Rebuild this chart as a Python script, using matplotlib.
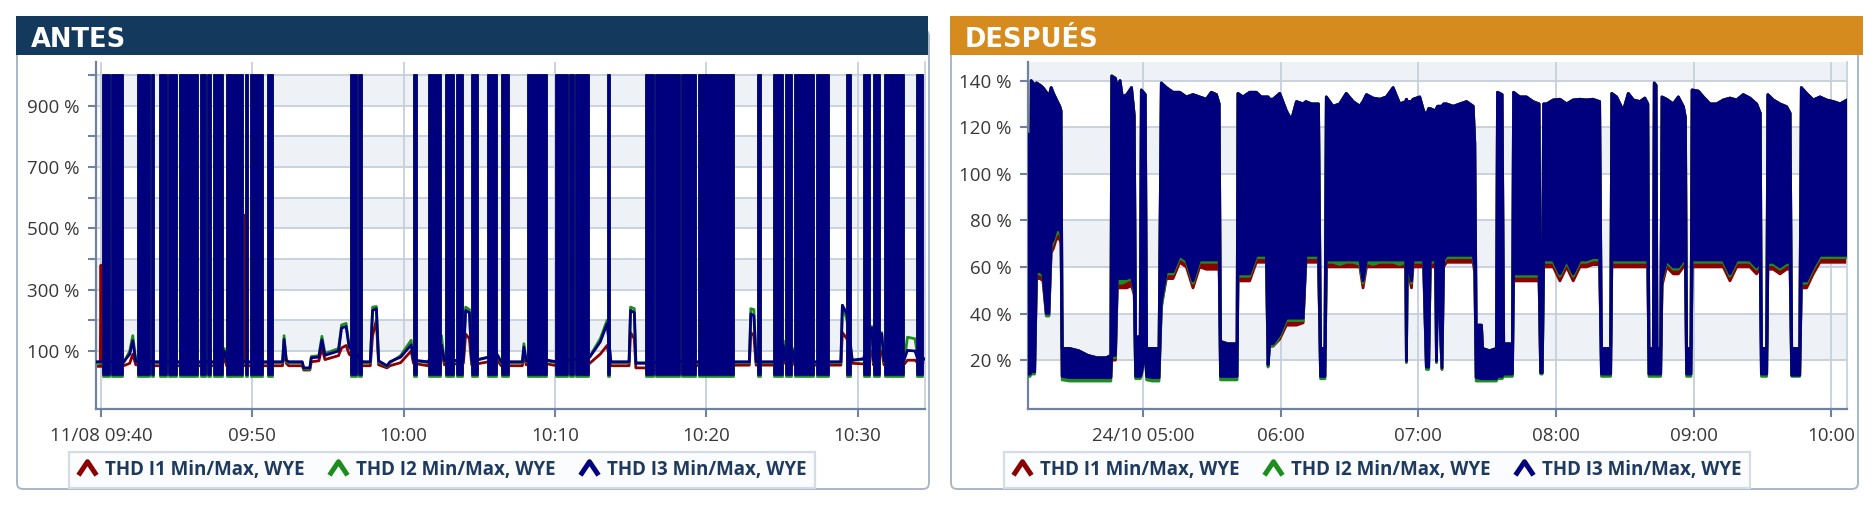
import matplotlib
matplotlib.use("Agg")
import matplotlib.pyplot as plt
import matplotlib.dates as mdates
from matplotlib.patches import Rectangle, FancyBboxPatch
from matplotlib.path import Path
from matplotlib.lines import Line2D
import pandas as pd

# ---------------- ANTES: minutes after 11/08 09:40 ----------------
antes_start = "2023-08-11 09:40"
antes_xlim = [-0.33, 54.46]
antes_tick_min = [0, 10, 20, 30, 40, 50]
antes_tick_labels = ["11/08 09:40", "09:50", "10:00", "10:10", "10:20", "10:30"]

# bursts where the reading saturates at 1000 %
antes_block_start = [0.1, 0.7, 2.45, 3.4, 3.9, 4.5, 5.2, 6.6, 7.1, 7.5,
                     8.35, 8.75, 9.15, 9.6, 9.9, 11.05, 16.5, 17.05,
                     20.7, 21.65, 22.8, 23.5, 24.55, 25.6, 26.5, 28.2, 29.3, 30.1,
                     31.0, 31.4, 31.65, 33.5, 36.0,
                     36.7, 37.4, 38.4, 39.5, 40.85,
                     43.4, 44.5, 45.25, 45.9, 46.8, 47.3, 49.3,
                     50.45, 51.1, 51.8, 53.9]
antes_block_end = [0.6, 1.45, 3.25, 3.5, 4.35, 5.0, 6.4, 6.95, 7.25, 8.05,
                   8.65, 9.05, 9.4, 9.7, 10.7, 11.35, 16.9, 17.25,
                   20.9, 22.45, 23.3, 23.9, 24.95, 26.15, 26.95, 29.2, 29.5, 30.85,
                   31.25, 31.6, 32.25, 33.65, 36.55,
                   37.35, 38.3, 39.35, 40.8, 41.85,
                   43.65, 45.05, 45.65, 46.75, 47.15, 48.1, 49.6,
                   50.85, 51.5, 53.1, 54.3]
antes_block_top = 1000
antes_block_floor = [30, 14, 22]   # I1, I2, I3

# level between the bursts
antes_base_t = [-0.33, -0.05, 0.0, 0.05, 1.5, 1.9, 2.1, 2.3, 3.6, 8.0,
                8.15, 8.3, 9.4, 9.45, 9.5, 11.4, 12.0, 12.1, 12.25, 12.4,
                13.3, 13.4, 13.8, 13.9, 14.4, 14.6, 14.8, 15.7, 15.9, 16.2,
                16.4, 17.3, 17.8, 17.95, 18.2, 18.35, 18.9, 19.1, 19.8, 20.5,
                20.65, 21.6, 22.5, 22.7, 23.95, 24.1, 24.35, 24.5, 26.2, 26.45,
                27.85, 27.95, 28.1, 29.5, 30.1, 32.3, 33.0, 33.45, 33.7, 34.9,
                35.0, 35.25, 35.35, 36.0, 37.0, 42.85, 42.95, 43.15, 43.3, 45.0,
                45.1, 45.2, 45.7, 45.85, 48.9, 49.0, 49.3, 49.65, 50.4, 50.95,
                51.05, 51.6, 51.75, 53.1, 53.3, 53.8, 54.0, 54.46]
antes_base_i1 = [50, 50, 380, 50, 52, 60, 90, 55, 52, 52,
                 80, 52, 52, 543, 52, 52, 52, 110, 60, 52,
                 52, 38, 38, 65, 68, 110, 72, 85, 110, 118,
                 90, 52, 52, 150, 200, 55, 45, 52, 62, 100,
                 60, 52, 100, 55, 60, 155, 140, 55, 70, 52,
                 52, 95, 55, 58, 52, 60, 90, 118, 52, 52,
                 160, 140, 45, 45, 52, 54, 160, 150, 54, 54,
                 90, 60, 75, 54, 54, 160, 140, 60, 58, 100,
                 55, 100, 55, 58, 70, 70, 60, 62]
antes_base_i2 = [60, 60, 60, 60, 62, 100, 150, 70, 62, 62,
                 108, 62, 62, 62, 62, 62, 62, 150, 65, 62,
                 62, 42, 40, 82, 85, 148, 92, 108, 185, 190,
                 115, 62, 62, 243, 245, 65, 50, 62, 85, 135,
                 70, 62, 150, 65, 70, 243, 235, 65, 88, 62,
                 62, 124, 65, 68, 62, 82, 140, 200, 62, 62,
                 243, 238, 62, 62, 62, 62, 238, 235, 62, 62,
                 134, 70, 110, 62, 62, 249, 200, 70, 72, 180,
                 65, 160, 65, 70, 145, 140, 75, 72]
antes_base_i3 = [65, 65, 65, 65, 65, 90, 134, 66, 65, 65,
                 100, 65, 65, 65, 65, 65, 65, 138, 70, 65,
                 65, 45, 45, 78, 80, 136, 86, 100, 175, 180,
                 113, 65, 65, 232, 238, 68, 52, 65, 80, 120,
                 70, 65, 120, 68, 70, 232, 225, 68, 86, 65,
                 65, 113, 68, 70, 65, 80, 130, 189, 65, 65,
                 232, 225, 60, 60, 65, 65, 221, 215, 65, 65,
                 118, 70, 102, 65, 65, 249, 221, 70, 75, 175,
                 68, 156, 68, 75, 102, 100, 70, 75]

# ---------------- DESPUÉS: minutes after 24/10 04:00 ----------------
despues_start = "2023-10-24 04:00"
despues_xlim = [9.9, 366.8]
despues_tick_min = [60, 120, 180, 240, 300, 360]
despues_tick_labels = ["24/10 05:00", "06:00", "07:00", "08:00", "09:00", "10:00"]

despues_t = [9.9, 10.8, 11.3, 12.8, 13.6, 15.2, 16.4, 17.9, 19.0, 20.0,
             21.0, 22.2, 23.7, 24.3, 24.8, 28.0, 32.0, 36.0, 40.0, 44.0,
             46.0, 46.4, 48.0, 48.8, 50.0, 51.0, 53.0, 55.0, 56.2, 56.8,
             58.8, 59.3, 61.0, 61.6, 64.0, 67.0, 68.0, 70.2, 73.1, 76.0,
             78.9, 81.8, 84.7, 87.6, 89.8, 92.0, 93.2, 93.8, 97.0, 101.0,
             101.4, 103.6, 106.5, 109.4, 111.5, 113.8, 114.5, 115.2, 116.7, 119.6,
             122.5, 124.7, 126.9, 129.8, 131.0, 133.5, 136.5, 137.4, 139.3, 139.9,
             142.8, 145.7, 148.6, 151.6, 154.5, 155.9, 157.4, 160.3, 163.2, 166.1,
             169.0, 171.9, 174.5, 174.8, 175.2, 177.0, 177.7, 180.6, 182.3, 183.5,
             184.5, 185.2, 187.5, 187.9, 188.4, 190.3, 191.0, 192.3, 195.2, 198.1,
             201.0, 203.9, 204.6, 205.2, 207.5, 208.0, 211.0, 214.0, 214.5, 216.5,
             217.2, 221.0, 221.5, 224.2, 227.1, 230.0, 232.6, 233.3, 234.0, 234.6,
             235.9, 238.8, 241.7, 244.6, 247.5, 250.4, 253.3, 256.0, 259.0, 259.8,
             263.8, 264.3, 266.4, 269.3, 271.5, 273.7, 276.6, 278.7, 280.0, 280.5,
             282.4, 282.8, 283.6, 284.0, 285.6, 286.2, 288.2, 291.1, 293.3, 295.5,
             296.4, 296.9, 298.8, 299.3, 302.0, 304.2, 307.1, 310.0, 312.9, 315.8,
             318.7, 321.6, 324.5, 327.4, 329.0, 329.5, 331.8, 332.3, 334.7, 337.6,
             340.5, 342.0, 342.7, 346.2, 346.9, 349.2, 352.1, 355.0, 357.9, 360.9,
             363.8, 366.8]
despues_max = [117, 30, 140, 138, 139, 138, 137, 135, 133, 137,
               134.5, 132, 129, 127, 25, 25, 24, 22, 21, 21,
               22, 142, 141, 137, 140, 133, 134, 137, 125, 30,
               30, 136, 134, 25, 25, 25, 139, 137, 135, 135,
               133, 134, 133, 132, 135, 134, 130, 28, 27, 27,
               134.5, 133, 135, 135, 133, 133, 133, 132, 132, 134.5,
               127, 123, 131, 130, 131, 130, 130, 25, 25, 133,
               129, 130, 134.5, 131, 129, 131, 134, 132.5, 132, 133,
               137, 130, 131, 132, 131, 131, 132, 133, 127, 125,
               128, 128, 127, 128, 129, 129, 130, 130, 129, 130,
               131, 129, 113, 35, 35, 25, 24, 25, 135, 134,
               27, 27, 135, 133, 133, 131, 130, 30, 30, 130,
               130, 131.7, 132, 130, 131.7, 132, 131.7, 132, 131, 25,
               25, 134.5, 133, 127, 134.5, 131.7, 131, 132.5, 130, 25,
               25, 139, 138, 25, 25, 133, 132, 130, 133, 128.8,
               124, 25, 25, 136, 135.5, 133, 130, 130, 131.7, 132.5,
               131.7, 134, 132.5, 130, 126, 25, 25, 134, 131.7, 130,
               128.8, 126, 25, 25, 137, 134.5, 131.7, 133, 131.7, 131,
               130, 131.7]
despues_i3_min = [14, 14, 15, 15, 58, 58, 57, 40, 40, 70,
                  72, 76, 76, 74, 13, 12.5, 12.5, 12.5, 12.5, 12.5,
                  12.5, 22, 22, 55, 55, 55, 55, 56, 50, 13,
                  13, 14, 24, 13, 12.5, 12.5, 45, 58, 58, 65,
                  63, 54, 63, 63, 63, 63, 63, 13, 13, 13,
                  57, 57, 57, 65, 65, 65, 18, 27, 27, 31,
                  38, 38, 38, 38, 65, 65, 65, 13, 13, 63,
                  63, 63, 63, 63, 63, 54, 63, 63, 63, 63,
                  63, 63, 63, 19.6, 63, 54, 63, 63, 63, 17,
                  17, 63, 63, 19.6, 63, 16.7, 63, 65, 65, 65,
                  65, 65, 60, 12.5, 12, 12, 12, 12, 13, 13,
                  14, 14, 57, 57, 57, 57, 57, 14.6, 14.6, 63,
                  63, 63, 57, 63, 57, 63, 63, 64, 64, 14,
                  14, 63, 63, 63, 63, 63, 63, 63, 63, 14,
                  14, 14, 14, 14, 14, 55, 63, 60, 60, 63,
                  63, 14, 14, 63, 63, 63, 63, 63, 63, 57,
                  63, 63, 63, 60, 63, 14, 14, 62, 62, 60,
                  62, 62, 13.5, 13.5, 54, 54, 60, 65, 65, 65,
                  65, 65]
despues_i1_min = [14, 14, 15, 15, 55, 55, 54, 39, 39, 66,
                  68, 72, 72, 70, 13, 12.5, 12.5, 12.5, 12.5, 12.5,
                  12.5, 20, 20, 51, 51, 51, 51, 52, 48, 13,
                  13, 14, 24, 13, 12.5, 12.5, 43, 55, 55, 62,
                  60, 51, 60, 59, 59, 59, 59, 13, 13, 13,
                  54, 54, 54, 62, 62, 62, 18, 26, 26, 29,
                  35, 35, 35, 36, 62, 62, 62, 13, 13, 60,
                  60, 60, 60, 60, 60, 51, 60, 60, 60, 60,
                  60, 60, 60, 19, 60, 51, 60, 60, 60, 17,
                  17, 60, 60, 19, 60, 16, 60, 62, 62, 62,
                  62, 62, 57, 12.5, 12, 12, 12, 12, 13, 13,
                  14, 14, 54, 54, 54, 54, 54, 14.6, 14.6, 60,
                  60, 60, 54, 60, 54, 60, 60, 61, 61, 14,
                  14, 60, 60, 60, 60, 60, 60, 60, 60, 14,
                  14, 14, 14, 14, 14, 52, 60, 57, 57, 60,
                  60, 14, 14, 60, 60, 60, 60, 60, 60, 54,
                  60, 60, 60, 57, 60, 14, 14, 59, 59, 57,
                  59, 59, 13.5, 13.5, 51, 51, 57, 62, 62, 62,
                  62, 62]
despues_i2_min = [13, 13, 14, 14, 57, 57, 56, 39, 39, 68,
                  71, 74, 75, 73, 11.5, 11, 11, 11, 11, 11,
                  11, 21, 21, 53, 53, 53, 54, 55, 49, 12,
                  12, 13, 23, 11.5, 11, 11, 42, 57, 57, 64,
                  62, 53, 62, 62, 62, 62, 62, 11.5, 11.5, 11.5,
                  56, 56, 56, 64, 64, 64, 17, 26, 26, 30,
                  37, 37, 37, 37, 64, 64, 64, 12, 12, 62,
                  62, 61, 62, 62, 61, 53, 62, 61, 62, 62,
                  62, 61, 62, 19, 62, 53, 62, 62, 62, 16,
                  16, 62, 62, 19, 62, 16, 62, 64, 64, 64,
                  64, 64, 59, 11, 11, 11, 11, 11, 12, 12,
                  13, 13, 56, 56, 56, 56, 56, 14, 14, 62,
                  62, 62, 56, 62, 56, 62, 62, 63, 63, 13,
                  13, 62, 62, 62, 62, 62, 62, 62, 62, 13,
                  13, 13, 13, 13, 13, 54, 62, 59, 59, 62,
                  62, 13, 13, 62, 62, 62, 62, 62, 62, 56,
                  62, 62, 62, 59, 62, 13, 13, 61, 61, 59,
                  61, 61, 13, 13, 53, 53, 59, 64, 64, 64,
                  64, 64]

series_names = ["THD I1 Min/Max, WYE", "THD I2 Min/Max, WYE", "THD I3 Min/Max, WYE"]
series_colors = ["#8b0000", "#1e8c1e", "#00007f"]

W, H = 1874, 508
SPINE = "#6f83a0"
GRID = "#c6cfdb"
BAND = "#eef1f6"
TICKTXT = "#383838"
LEGTXT = "#1f3a5f"

plt.rcParams["font.family"] = ["Open Sans", "DejaVu Sans"]

fig = plt.figure(figsize=(W / 100, H / 100), dpi=100)


def when(start, minutes):
    idx = pd.Timestamp(start) + pd.to_timedelta(minutes, unit="min")
    return mdates.date2num(pd.DatetimeIndex(idx).to_pydatetime())


def box(x0, y0, x1, y1):
    # pixel box, top-left origin -> figure fraction
    return [x0 / W, 1 - y1 / H, (x1 - x0) / W, (y1 - y0) / H]


def frame(x0, x1, title, colour, hx1):
    fig.add_artist(FancyBboxPatch((x0 / 100, (H - 489) / 100), (x1 - x0) / 100, (489 - 30) / 100,
                                  boxstyle="round,pad=0,rounding_size=0.06",
                                  transform=fig.dpi_scale_trans, fc="white",
                                  ec="#a9b7c7", lw=1.4, zorder=-5))
    fig.add_artist(Rectangle(((x0 - 1) / W, 1 - 55 / H), (hx1 - x0 + 1) / W, 39 / H,
                             transform=fig.transFigure, fc=colour, ec="none", zorder=5))
    fig.text((x0 + 14) / W, 1 - 46.5 / H, title, color="white", fontsize=18.5,
             fontweight="bold", family="DejaVu Sans", va="baseline", zorder=6)


def style_axes(ax, yticks, ylabels, ylim, bands, xt, xl, xlim):
    ax.set_ylim(*ylim)
    ax.set_xlim(*xlim)
    for lo, hi in bands:
        ax.axhspan(lo, hi, color=BAND, lw=0, zorder=0)
    ax.set_yticks(yticks)
    ax.set_yticklabels(ylabels)
    ax.set_xticks(xt)
    ax.set_xticklabels(xl)
    ax.set_axisbelow(True)
    ax.grid(True, color=GRID, lw=1.3)
    ax.spines["top"].set_visible(False)
    ax.spines["right"].set_color("#c4cdd8")
    ax.spines["right"].set_linewidth(1.2)
    for s in ["left", "bottom"]:
        ax.spines[s].set_color(SPINE)
        ax.spines[s].set_linewidth(1.6)
    ax.tick_params(axis="both", colors=SPINE, labelcolor=TICKTXT, labelsize=13.5,
                   length=6, width=1.5)
    ax.tick_params(axis="y", pad=6)
    ax.tick_params(axis="x", pad=7)


chevron = Path([(-1, -0.75), (0, 0.75), (1, -0.75)], [Path.MOVETO, Path.LINETO, Path.LINETO])


def legend(ax, cx):
    handles = [Line2D([], [], ls="none", marker=chevron, markersize=13, markeredgewidth=3.6,
                      markerfacecolor="none", markeredgecolor=c) for c in series_colors]
    leg = ax.legend(handles, series_names, ncol=3, loc="center",
                    bbox_to_anchor=(cx / W, 1 - 470 / H), bbox_transform=fig.transFigure,
                    frameon=True, fancybox=False, edgecolor="#d5dce5", facecolor="#fbfcfd",
                    framealpha=1, borderpad=0.45, handlelength=1.0, handletextpad=0.45,
                    columnspacing=1.3, labelcolor=LEGTXT,
                    prop={"family": ["Open Sans", "DejaVu Sans"], "weight": "bold", "size": 13.5})
    leg.get_frame().set_linewidth(1.6)


# ---------------- left panel ----------------
frame(17, 929, "ANTES", "#133a5d", 928)
ax1 = fig.add_axes(box(96, 62, 925, 409))
ta = when(antes_start, antes_base_t)
bases = [antes_base_i1, antes_base_i2, antes_base_i3]
for k in range(3):
    c = series_colors[k]
    ax1.plot(ta, bases[k], color=c, lw=2.0, zorder=2 + k)
    for s, e in zip(antes_block_start, antes_block_end):
        xs = when(antes_start, [s, e])
        ax1.fill_between(xs, antes_block_floor[k], antes_block_top, facecolor=c,
                         edgecolor=c, lw=1.2, zorder=2 + k)
style_axes(ax1, list(range(100, 1001, 100)),
           [f"{v} %" if v % 200 == 100 else "" for v in range(100, 1001, 100)],
           (-89, 1042), [(100, 200), (300, 400), (500, 600), (700, 800), (900, 1000)],
           when(antes_start, antes_tick_min), antes_tick_labels, when(antes_start, antes_xlim))
legend(ax1, 442)

# ---------------- right panel ----------------
frame(951, 1858, "DESPUÉS", "#d68b1f", 1863)
ax2 = fig.add_axes(box(1028, 62, 1847, 409))
td = when(despues_start, despues_t)
mins = [despues_i1_min, despues_i2_min, despues_i3_min]
for k in range(3):
    c = series_colors[k]
    ax2.fill_between(td, mins[k], despues_max, facecolor=c, edgecolor="none", zorder=2 + k)
    ax2.plot(td, despues_max, color=c, lw=2.0, zorder=2 + k)
    ax2.plot(td, mins[k], color=c, lw=2.0, zorder=2 + k)
style_axes(ax2, list(range(20, 141, 20)), [f"{v} %" for v in range(20, 141, 20)],
           (-1, 148), [(20, 40), (60, 80), (100, 120), (140, 160)],
           when(despues_start, despues_tick_min), despues_tick_labels,
           when(despues_start, despues_xlim))
legend(ax2, 1377)

fig.savefig("out.png", dpi=100)
